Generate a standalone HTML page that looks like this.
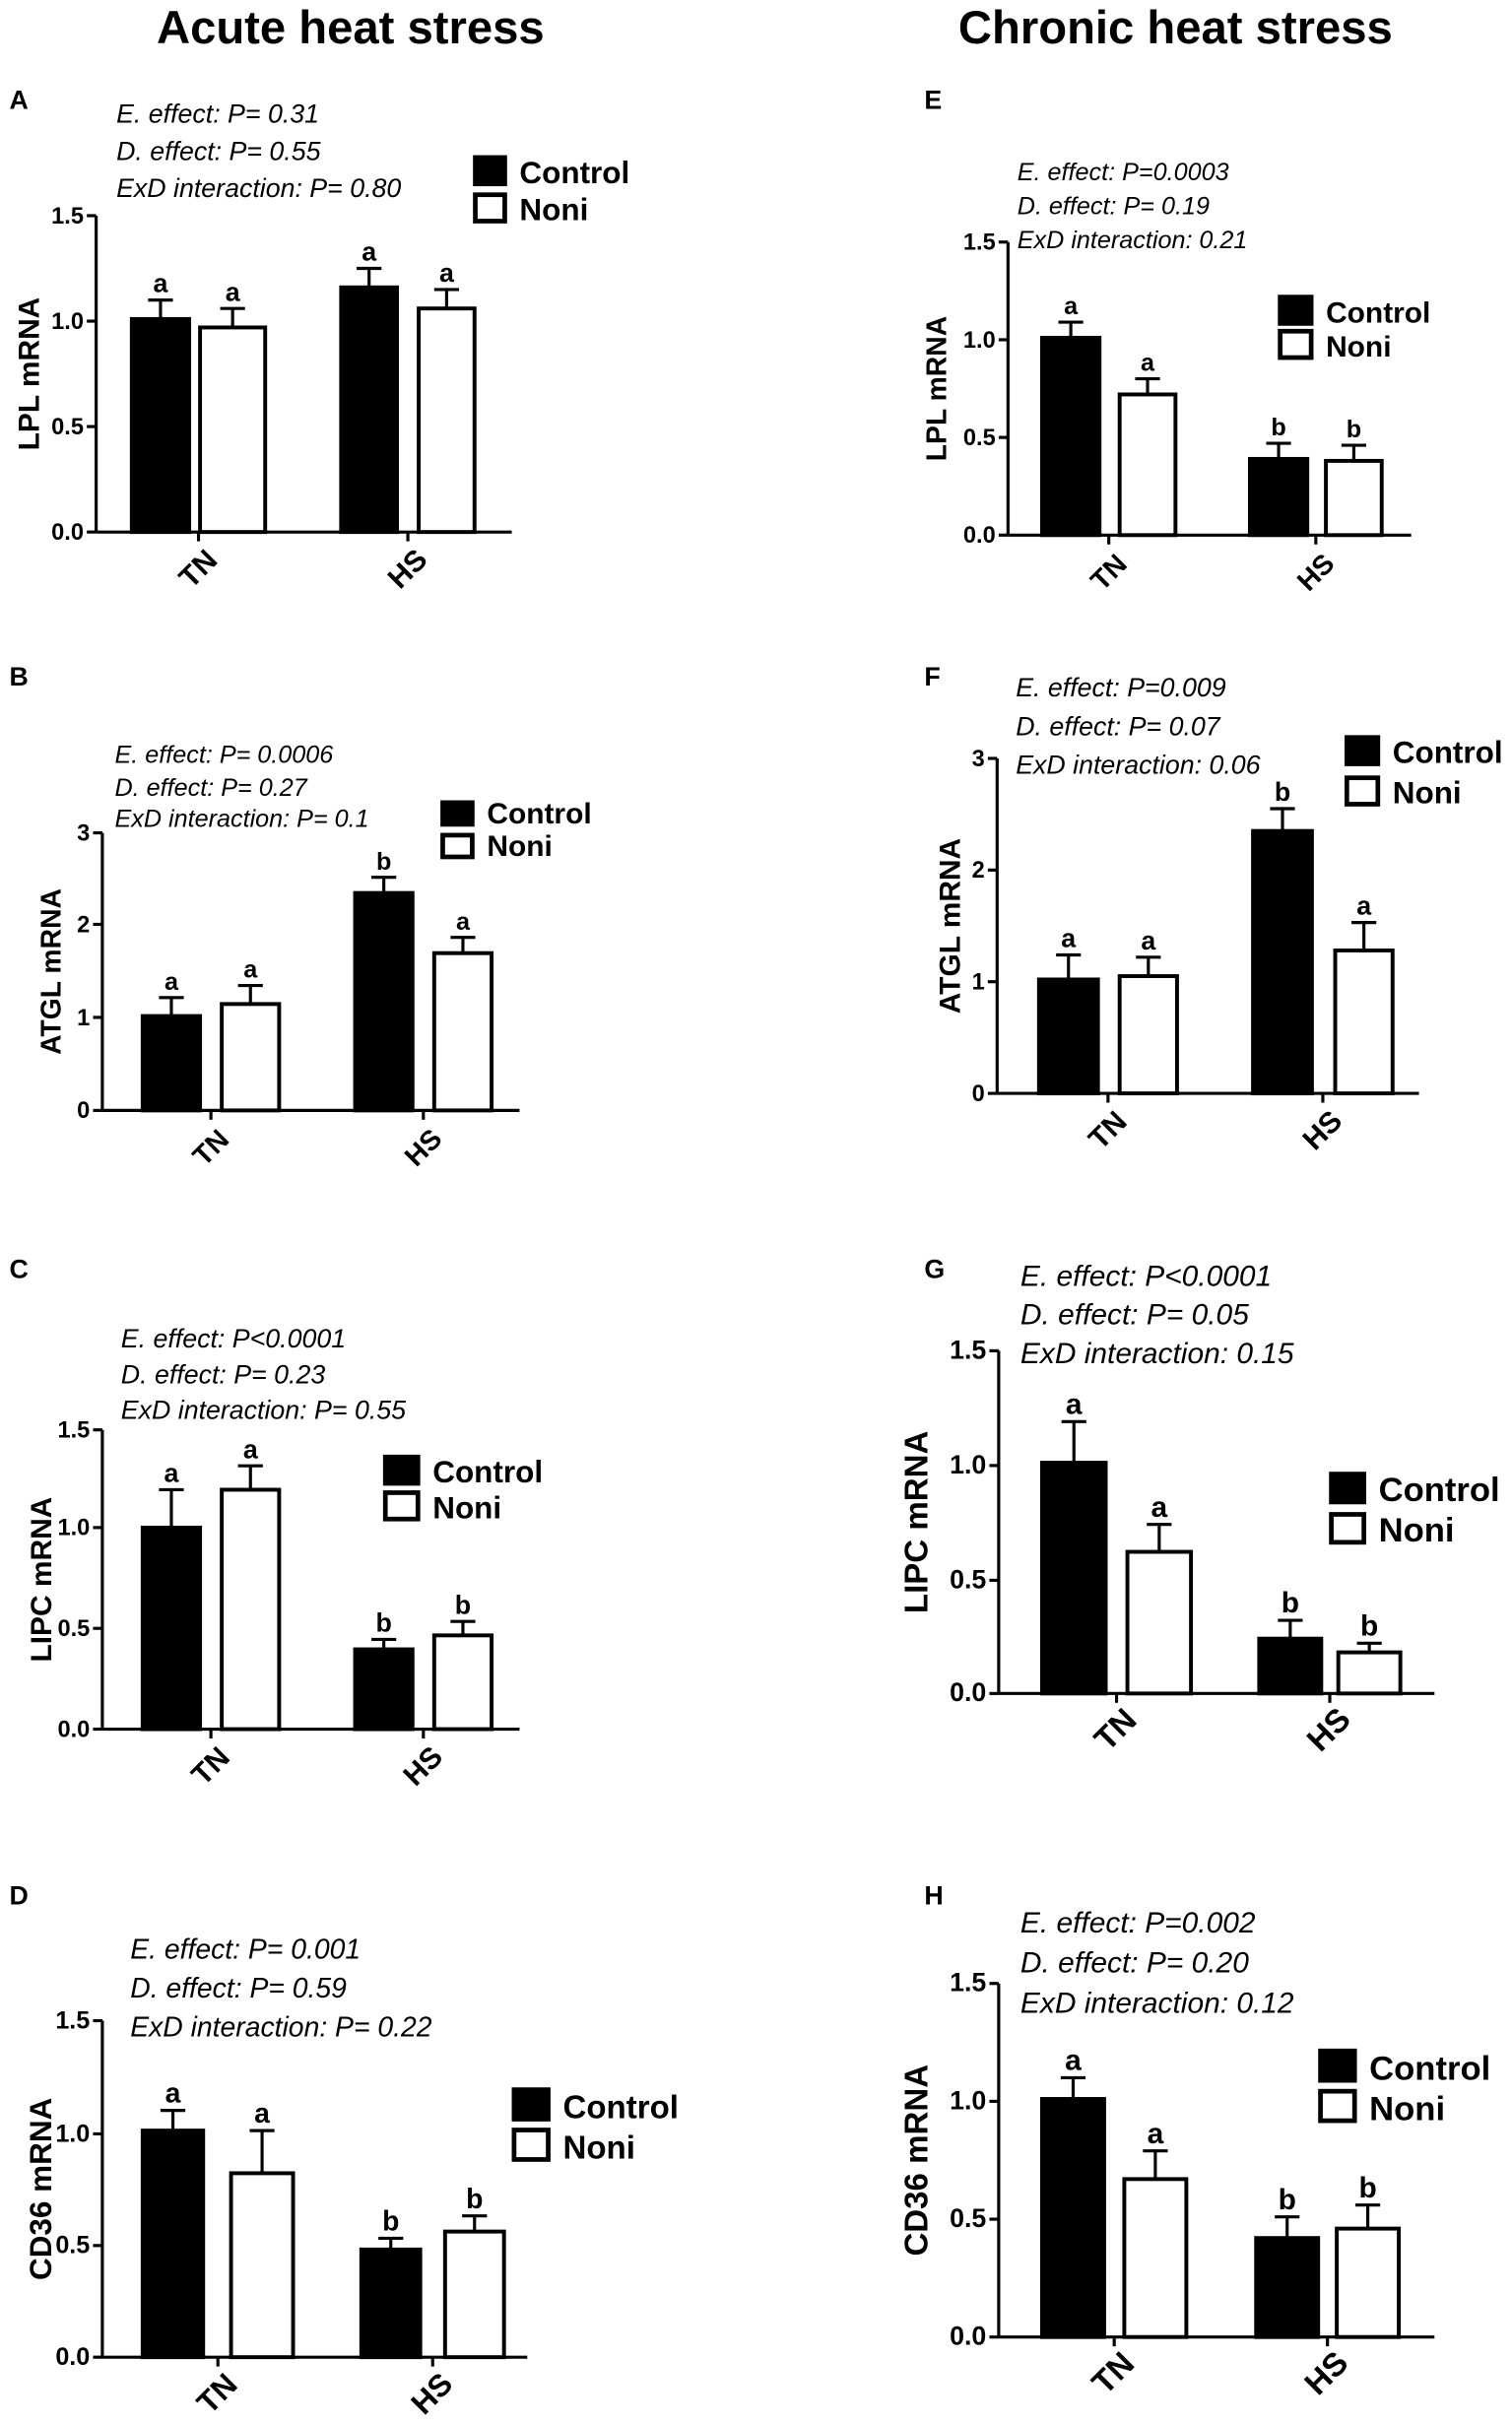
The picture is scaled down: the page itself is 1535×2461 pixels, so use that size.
<!DOCTYPE html>
<html><head><meta charset="utf-8">
<style>
html,body{margin:0;padding:0;background:#fff;}
svg{display:block;}
text{font-family:"Liberation Sans",Arial,sans-serif;fill:#000;}
</style></head>
<body>
<svg id="s" width="1535" height="2461" viewBox="0 0 975 1563" xmlns="http://www.w3.org/2000/svg">
<text x="226" y="28" font-size="30" font-weight="bold" text-anchor="middle">Acute heat stress</text>
<text x="758" y="28" font-size="30" font-weight="bold" text-anchor="middle">Chronic heat stress</text>
</svg>
<script>
const S=document.getElementById('s');const NS='http://www.w3.org/2000/svg';
function el(t,a,txt){const e=document.createElementNS(NS,t);for(const k in a)e.setAttribute(k,a[k]);if(txt!==undefined)e.textContent=txt;S.appendChild(e);return e;}
const P=[
{L:'A',lx:6,ly:70,ax:62,yx:18,ticks:[[1.5,139],[1.0,207],[0.5,275],[0,343]],lab:['0.0','0.5','1.0','1.5'],xe:330,
 bars:[[85,122,1.01,0.09,'a'],[129,171,0.97,0.09,'a'],[220,256,1.16,0.09,'a'],[270,306,1.06,0.09,'a']],
 st:[75,[79,103,127],['E. effect: P= 0.31','D. effect: P= 0.55','ExD interaction: P= 0.80']],lg:[305,100,22,20,24],fs:17,yl:'LPL mRNA'},
{L:'B',lx:6,ly:442,ax:66,yx:32,ticks:[[3,537],[2,596],[1,656],[0,716]],lab:['0','1','2','3'],xe:335,
 bars:[[92,129,1.02,0.2,'a'],[143,180,1.15,0.2,'a'],[229,266,2.35,0.17,'b'],[280,317,1.7,0.17,'a']],
 st:[74,[492,513,533],['E. effect: P= 0.0006','D. effect: P= 0.27','ExD interaction: P= 0.1']],lg:[284,516,22,17,21],fs:16,yl:'ATGL mRNA'},
{L:'C',lx:6,ly:824,ax:66,yx:26,ticks:[[1.5,922],[1.0,985],[0.5,1050],[0,1115]],lab:['0.0','0.5','1.0','1.5'],xe:335,
 bars:[[92,129,1.01,0.19,'a'],[143,180,1.2,0.12,'a'],[229,266,0.4,0.05,'b'],[280,317,0.47,0.07,'b']],
 st:[78,[869,892,915],['E. effect: P<0.0001','D. effect: P= 0.23','ExD interaction: P= 0.55']],lg:[247,938,24,20,23],fs:17,yl:'LIPC mRNA'},
{L:'D',lx:6,ly:1228,ax:66,yx:26,ticks:[[1.5,1303],[1.0,1376],[0.5,1448],[0,1520]],lab:['0.0','0.5','1.0','1.5'],xe:340,
 bars:[[92,131,1.01,0.09,'a'],[149,189,0.82,0.19,'a'],[233,271,0.48,0.05,'b'],[287,325,0.56,0.07,'b']],
 st:[84,[1263,1288,1313],['E. effect: P= 0.001','D. effect: P= 0.59','ExD interaction: P= 0.22']],lg:[330,1346,25,22,26],fs:18,yl:'CD36 mRNA'},
{L:'E',lx:596,ly:70,ax:650,yx:603,ticks:[[1.5,156],[1.0,219],[0.5,282],[0,345]],lab:['0.0','0.5','1.0','1.5'],xe:910,
 bars:[[672,709,1.01,0.08,'a'],[722,758,0.72,0.08,'a'],[806,843,0.39,0.08,'b'],[855,891,0.38,0.08,'b']],
 st:[656,[116,138,160],['E. effect: P=0.0003','D. effect: P= 0.19','ExD interaction: 0.21']],lg:[824,190,23,20,22],fs:16,yl:'LPL mRNA'},
{L:'F',lx:596,ly:442,ax:643,yx:612,ticks:[[3,489],[2,561],[1,633],[0,705]],lab:['0','1','2','3'],xe:915,
 bars:[[670,708,1.02,0.22,'a'],[722,759,1.05,0.17,'a'],[808,846,2.35,0.2,'b'],[861,898,1.28,0.25,'a']],
 st:[655,[449,474,499],['E. effect: P=0.009','D. effect: P= 0.07','ExD interaction: 0.06']],lg:[867,474,23,20,26],fs:17,yl:'ATGL mRNA'},
{L:'G',lx:596,ly:824,ax:644,yx:591,ticks:[[1.5,871],[1.0,945],[0.5,1019],[0,1092]],lab:['0.0','0.5','1.0','1.5'],xe:925,
 bars:[[672,713,1.01,0.18,'a'],[727,768,0.62,0.12,'a'],[812,852,0.24,0.08,'b'],[863,903,0.18,0.04,'b']],
 st:[658,[829,854,879],['E. effect: P<0.0001','D. effect: P= 0.05','ExD interaction: 0.15']],lg:[857,949,24,21,26],fs:19,yl:'LIPC mRNA'},
{L:'H',lx:596,ly:1228,ax:644,yx:591,ticks:[[1.5,1279],[1.0,1355],[0.5,1431],[0,1507]],lab:['0.0','0.5','1.0','1.5'],xe:925,
 bars:[[672,712,1.01,0.09,'a'],[725,765,0.67,0.12,'a'],[810,850,0.42,0.09,'b'],[862,902,0.46,0.1,'b']],
 st:[658,[1246,1272,1298],['E. effect: P=0.002','D. effect: P= 0.20','ExD interaction: 0.12']],lg:[850,1321,25,22,26],fs:19,yl:'CD36 mRNA'}
];
for(const p of P){
 el('text',{x:p.lx,y:p.ly,'font-size':17,'font-weight':'bold'},p.L);
 const t=p.ticks;const top=t[0][1],bot=t[t.length-1][1],vmax=t[0][0];
 const Y=v=>bot-(bot-top)*v/vmax;
 el('line',{x1:p.ax,y1:top,x2:p.ax,y2:bot,stroke:'#000','stroke-width':2});
 el('line',{x1:p.ax,y1:bot,x2:p.xe,y2:bot,stroke:'#000','stroke-width':2});
 const n=t.length;
 for(let i=0;i<n;i++){const y=t[n-1-i][1];
  el('line',{x1:p.ax-6,y1:y,x2:p.ax,y2:y,stroke:'#000','stroke-width':2});
  el('text',{x:p.ax-8,y:y+5,'font-size':Math.max(p.fs-2,15),'font-weight':'bold','text-anchor':'end'},p.lab[i]);}
 const b=p.bars;
 const c1=(b[0][0]+b[1][1])/2,c2=(b[2][0]+b[3][1])/2;
 for(const c of [c1,c2]){el('line',{x1:c,y1:bot,x2:c,y2:bot+6,stroke:'#000','stroke-width':2});}
 el('text',{x:c1,y:bot+30,'font-size':p.fs+2,'font-weight':'bold','text-anchor':'middle',transform:`rotate(-45 ${c1} ${bot+24})`},'TN');
 el('text',{x:c2,y:bot+30,'font-size':p.fs+2,'font-weight':'bold','text-anchor':'middle',transform:`rotate(-45 ${c2} ${bot+24})`},'HS');
 b.forEach((r,i)=>{const[x1,x2,v,e,l]=r;const y=Y(v),ye=Y(v+e),cx=(x1+x2)/2;
  el('line',{x1:cx,y1:y,x2:cx,y2:ye,stroke:'#000','stroke-width':2});
  el('line',{x1:cx-8,y1:ye,x2:cx+8,y2:ye,stroke:'#000','stroke-width':2});
  el('rect',{x:x1,y:y,width:x2-x1,height:bot-y,fill:i%2?'#fff':'#000',stroke:'#000','stroke-width':2.5});
  el('text',{x:cx,y:ye-5,'font-size':p.fs,'font-weight':'bold','text-anchor':'middle'},l);});
 const yc=(top+bot)/2,yx=p.yx+7;
 el('text',{x:yx,y:yc,'font-size':p.fs+2,'font-weight':'bold','text-anchor':'middle',transform:`rotate(-90 ${yx} ${yc})`},p.yl);
 p.st[1].forEach((y,i)=>el('text',{x:p.st[0],y:y,'font-size':p.fs,'font-style':'italic'},p.st[2][i]));
 const[lx,ly,w,h,gap]=p.lg;
 el('rect',{x:lx,y:ly,width:w,height:h,fill:'#000'});
 el('rect',{x:lx+1.5,y:ly+gap+1.5,width:w-3,height:h-3,fill:'#fff',stroke:'#000','stroke-width':3});
 el('text',{x:lx+w+8,y:ly+h-2,'font-size':p.fs+3,'font-weight':'bold'},'Control');
 el('text',{x:lx+w+8,y:ly+gap+h-2,'font-size':p.fs+3,'font-weight':'bold'},'Noni');
}
</script>
</body></html>
